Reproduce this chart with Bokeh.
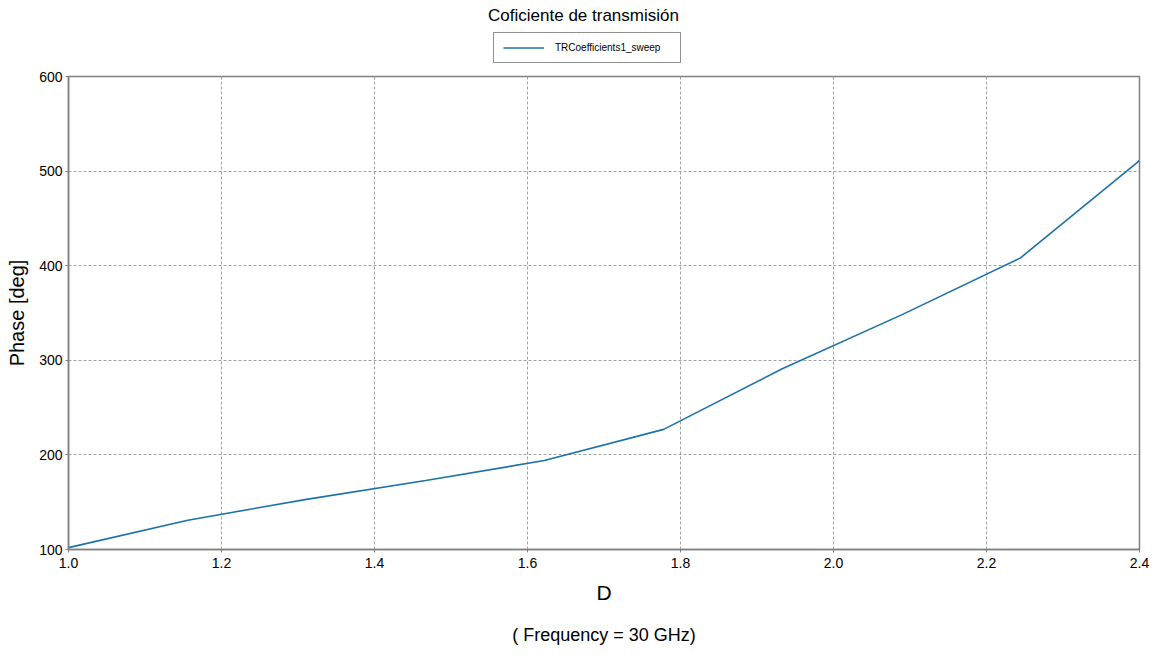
from bokeh.plotting import figure
from bokeh.layouts import column
from bokeh.models import Legend, LegendItem, Title, FixedTicker, Range1d, Label
from bokeh.embed import file_html
from bokeh.resources import INLINE

# Data
d_values = [1.0, 1.156, 1.311, 1.467, 1.622, 1.778, 1.933, 2.089, 2.244, 2.4]
phase_deg = [102, 131, 153, 173, 194, 227, 291, 348, 408, 511]
x_ticks = [1.0, 1.2, 1.4, 1.6, 1.8, 2.0, 2.2, 2.4]
y_ticks = [100, 200, 300, 400, 500, 600]
series_name = "TRCoefficients1_sweep"
chart_title = "Coficiente de transmisión"
footer_text = "( Frequency = 30 GHz)"

FONT = "Liberation Sans"
LINE_COLOR = "#1c72a6"

# ---------- header: title + legend (its frame is aligned with the chart's frame) ----------
top = figure(width=1159, height=65, output_backend="svg", toolbar_location=None,
             title_location=None, x_axis_location=None, y_axis_location=None,
             x_range=Range1d(0, 1), y_range=Range1d(0, 1),
             min_border_left=0, min_border_right=0, min_border_top=0, min_border_bottom=0)
top.outline_line_color = None
top.background_fill_color = "white"
top.border_fill_color = "white"
top.grid.visible = False

top.add_layout(Label(x=515, y=50, x_units="screen", y_units="screen", text=chart_title,
                     text_align="center", text_baseline="middle", text_font=FONT,
                     text_font_size="17px", text_color="black"))

# same series, outside this header's ranges: only used for the legend swatch
swatch = top.line(d_values, phase_deg, line_color=LINE_COLOR, line_width=1.6)
legend = Legend(items=[LegendItem(label=series_name, renderers=[swatch])],
                orientation="horizontal", location=(425, 2))
legend.label_text_font = FONT
legend.label_text_font_size = "10px"
legend.label_text_color = "black"
legend.border_line_color = "#222222"
legend.border_line_width = 1
legend.glyph_width = 41
legend.glyph_height = 11
legend.label_height = 11
legend.label_width = 116
legend.label_standoff = 11
legend.padding = 9
legend.margin = 0
legend.background_fill_alpha = 1
top.add_layout(legend, "center")

# ---------- main chart ----------
p = figure(frame_width=1071, frame_height=473, output_backend="svg", toolbar_location=None,
           title_location=None,
           x_range=Range1d(1.0, 2.4), y_range=Range1d(100, 600),
           min_border_left=68, min_border_right=20, min_border_top=11, min_border_bottom=106)
p.background_fill_color = "white"
p.border_fill_color = "white"
p.outline_line_color = "#808080"
p.outline_line_width = 1.5

p.line(d_values, phase_deg, line_color=LINE_COLOR, line_width=1.6)

for ax in (p.xaxis[0], p.yaxis[0]):
    ax.axis_line_color = "#808080"
    ax.axis_line_width = 1.5
    ax.major_tick_line_color = "#808080"
    ax.major_tick_out = 3
    ax.major_tick_in = 0
    ax.minor_tick_line_color = None
    ax.major_label_text_font = FONT
    ax.major_label_text_font_size = "14px"
    ax.major_label_text_color = "black"
    ax.axis_label_text_font = FONT
    ax.axis_label_text_font_style = "normal"
    ax.axis_label_text_color = "black"

p.xaxis[0].ticker = FixedTicker(ticks=x_ticks)
p.yaxis[0].ticker = FixedTicker(ticks=y_ticks)
p.xaxis[0].major_label_overrides = {t: f"{t:.1f}" for t in x_ticks}
p.xaxis[0].major_label_standoff = 5
p.yaxis[0].major_label_standoff = 3
p.xaxis.axis_label = "D"
p.xaxis.axis_label_text_font_size = "21px"
p.xaxis.axis_label_standoff = 10
p.yaxis.axis_label = "Phase [deg]"
p.yaxis.axis_label_text_font_size = "20px"
p.yaxis.axis_label_standoff = 8

for g in (p.xgrid[0], p.ygrid[0]):
    g.grid_line_color = "#a0a0a0"
    g.grid_line_dash = "3 2"
    g.grid_line_width = 1

p.add_layout(Title(text=footer_text, align="center", text_font=FONT,
                   text_font_size="18px", text_font_style="normal", text_color="black",
                   standoff=32), "below")

layout = column(top, p, spacing=0)
open("out.html", "w").write(file_html(layout, INLINE))
